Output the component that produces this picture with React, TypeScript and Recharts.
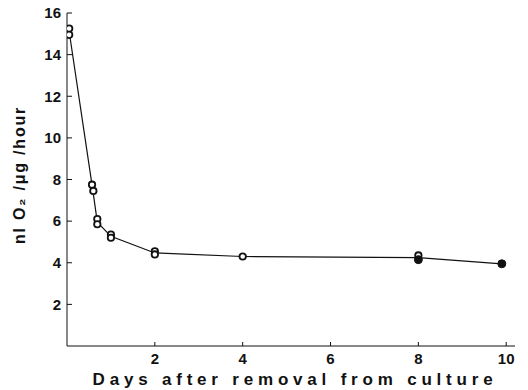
import React from "react";
import { ComposedChart, Line, Scatter, XAxis, YAxis } from "recharts";

const xTicks = [2, 4, 6, 8, 10];
const yTicks = [2, 4, 6, 8, 10, 12, 14, 16];

// Mean curve through the measurements
const meanDays = [0.05, 0.58, 0.69, 1, 2, 4, 8, 9.9];
const meanRates = [15.1, 7.6, 5.95, 5.27, 4.47, 4.3, 4.25, 3.95];

// Individual measurements (open circles)
const openDays = [0.05, 0.05, 0.57, 0.6, 0.69, 0.69, 1, 1, 2, 2, 4, 8];
const openRates = [15.25, 14.95, 7.75, 7.45, 6.1, 5.85, 5.35, 5.2, 4.55, 4.4, 4.3, 4.35];

// Individual measurements (filled circles)
const filledDays = [8, 9.9];
const filledRates = [4.15, 3.95];

const meanData = meanDays.map((x, i) => ({ x, y: meanRates[i] }));
const openData = openDays.map((x, i) => ({ x, y: openRates[i] }));
const filledData = filledDays.map((x, i) => ({ x, y: filledRates[i] }));

const FONT = "'Liberation Sans', Arial, sans-serif";
const INK = "#111";

const YTick = (props: any) => {
  const { x, y, payload } = props;
  return (
    <g>
      <line x1={x} y1={y} x2={x + 5} y2={y} stroke={INK} strokeWidth={1} />
      <text x={x - 6} y={y} dy="0.35em" textAnchor="end" fontFamily={FONT} fontSize={15} fontWeight={700} fill={INK}>
        {payload.value}
      </text>
    </g>
  );
};

const XTick = (props: any) => {
  const { x, y, payload } = props;
  return (
    <g>
      <line x1={x} y1={y} x2={x} y2={y - 4} stroke={INK} strokeWidth={1} />
      <text x={x} y={y + 18} textAnchor="middle" fontFamily={FONT} fontSize={15} fontWeight={700} fill={INK}>
        {payload.value}
      </text>
    </g>
  );
};

const OpenDot = (p: any) => (
  <circle cx={p.cx} cy={p.cy} r={3.2} fill="#fff" stroke={INK} strokeWidth={1.8} />
);
const FilledDot = (p: any) => <circle cx={p.cx} cy={p.cy} r={4} fill={INK} stroke={INK} strokeWidth={1} />;

export default function App() {
  return (
    <div style={{ position: "absolute", left: 0, top: 0, background: "#fff" }}>
      <ComposedChart
        width={528}
        height={390}
        margin={{ top: 13, right: 13, bottom: 14, left: 0 }}
        style={{ background: "#fff" }}
      >
        <XAxis
          type="number"
          dataKey="x"
          height={30}
          domain={[0, 10.2]}
          ticks={xTicks}
          tick={<XTick />}
          tickLine={false}
          tickSize={0}
          tickMargin={0}
          axisLine={{ stroke: INK, strokeWidth: 1 }}
          allowDataOverflow
          label={{
            content: (lp: any) => {
              const vb = lp.viewBox || {};
              return (
                <text
                  x={295}
                  y={vb.y + 39}
                  textAnchor="middle"
                  fontFamily={FONT}
                  fontSize={17}
                  fontWeight={700}
                  letterSpacing={4.8}
                  fill={INK}
                >
                  Days after removal from culture
                </text>
              );
            },
          }}
        />
        <YAxis
          type="number"
          dataKey="y"
          width={67}
          domain={[0, 16]}
          ticks={yTicks}
          tick={<YTick />}
          tickLine={false}
          tickSize={0}
          tickMargin={0}
          axisLine={{ stroke: INK, strokeWidth: 1 }}
          label={{
            content: () => (
              <text
                x={0}
                y={0}
                transform="translate(25,175) rotate(-90)"
                textAnchor="middle"
                fontFamily={FONT}
                fontSize={16}
                fontWeight={700}
                letterSpacing={1.8}
                fill={INK}
              >
                nl O₂ /μg /hour
              </text>
            ),
          }}
        />
        <Line
          data={meanData}
          dataKey="y"
          type="linear"
          stroke={INK}
          strokeWidth={1.2}
          dot={false}
          activeDot={false}
          isAnimationActive={false}
        />
        <Scatter data={openData} dataKey="y" shape={<OpenDot />} isAnimationActive={false} />
        <Scatter data={filledData} dataKey="y" shape={<FilledDot />} isAnimationActive={false} />
      </ComposedChart>
    </div>
  );
}
